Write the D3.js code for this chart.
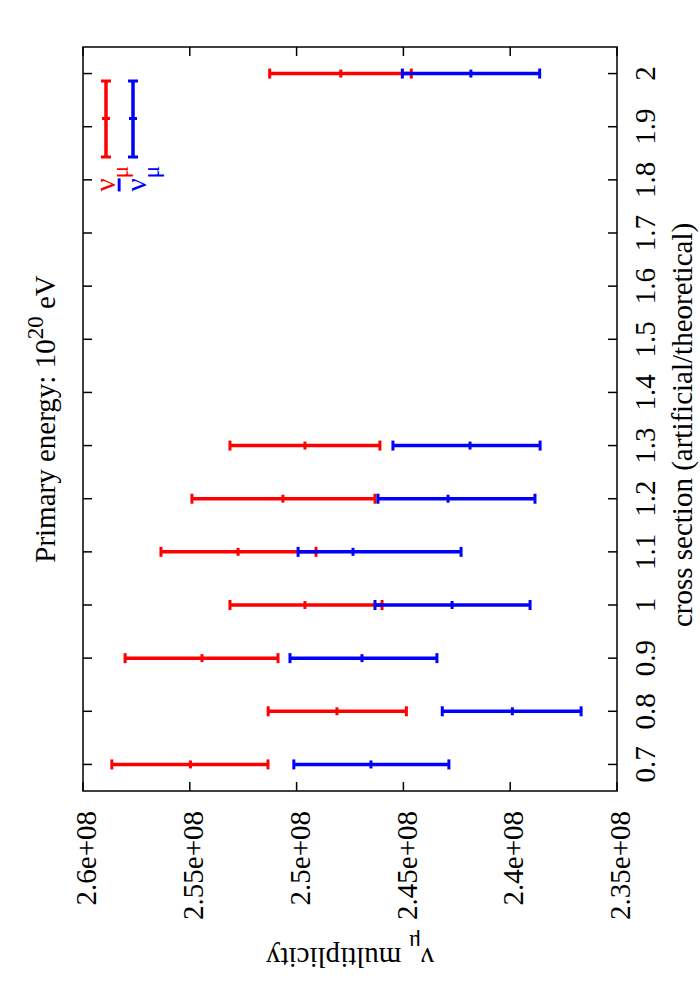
<!DOCTYPE html>
<meta charset="utf-8">
<style>
body { margin: 0; background: #fff; }
text { font-family: "Liberation Serif", "Times New Roman", serif; fill: #000; }
.frame { fill: none; stroke: #000; stroke-width: 1.5px; }
.tick { stroke: #000; stroke-width: 1.5px; }
</style>
<svg width="700" height="1000"></svg>
<script src="https://cdn.jsdelivr.net/npm/d3@7"></script>
<script>

// cross section values (artificial/theoretical)
var crossSection = [0.7, 0.8, 0.9, 1.0, 1.1, 1.2, 1.3, 2.0];

// nu_mu multiplicity: low, value, high
var numuLow   = [2.5865e8, 2.5133e8, 2.5803e8, 2.5312e8, 2.5635e8, 2.5490e8, 2.5312e8, 2.5126e8];
var numuValue = [2.5497e8, 2.4811e8, 2.5443e8, 2.4961e8, 2.5274e8, 2.5064e8, 2.4961e8, 2.4793e8];
var numuHigh  = [2.5134e8, 2.4486e8, 2.5087e8, 2.4600e8, 2.4909e8, 2.4633e8, 2.4610e8, 2.4463e8];

// anti nu_mu multiplicity: low, value, high
var numubarLow   = [2.5013e8, 2.4318e8, 2.5031e8, 2.4633e8, 2.4993e8, 2.4619e8, 2.4549e8, 2.4505e8];
var numubarValue = [2.4652e8, 2.3990e8, 2.4694e8, 2.4272e8, 2.4736e8, 2.4291e8, 2.4188e8, 2.4184e8];
var numubarHigh  = [2.4287e8, 2.3668e8, 2.4343e8, 2.3907e8, 2.4230e8, 2.3884e8, 2.3860e8, 2.3862e8];

var multTicks = [2.6e8, 2.55e8, 2.5e8, 2.45e8, 2.4e8, 2.35e8];
var multLabels = ["2.6e+08", "2.55e+08", "2.5e+08", "2.45e+08", "2.4e+08", "2.35e+08"];
var csTicks = [0.7, 0.8, 0.9, 1, 1.1, 1.2, 1.3, 1.4, 1.5, 1.6, 1.7, 1.8, 1.9, 2];

var svg = d3.select("svg"),
    plotL = 83, plotR = 617, plotT = 47, plotB = 791,
    fs = 29, fsSub = 23;

// whole gnuplot page is turned a quarter turn, so multiplicity runs across
var x = d3.scaleLinear().domain([2.6e8, 2.35e8]).range([plotL, plotR]);
var y = d3.scaleLinear().domain([0.65, 2.05]).range([plotB, plotT]);

var tickLen = 9;

// ticks, mirrored on both sides
var g = svg.append("g");
multTicks.forEach(function(v) {
  g.append("line").attr("class", "tick")
      .attr("x1", x(v)).attr("x2", x(v)).attr("y1", plotB).attr("y2", plotB - tickLen);
  g.append("line").attr("class", "tick")
      .attr("x1", x(v)).attr("x2", x(v)).attr("y1", plotT).attr("y2", plotT + tickLen);
});
csTicks.forEach(function(v) {
  g.append("line").attr("class", "tick")
      .attr("x1", plotL).attr("x2", plotL + tickLen).attr("y1", y(v)).attr("y2", y(v));
  g.append("line").attr("class", "tick")
      .attr("x1", plotR).attr("x2", plotR - tickLen).attr("y1", y(v)).attr("y2", y(v));
});

svg.append("rect").attr("class", "frame")
    .attr("x", plotL).attr("y", plotT)
    .attr("width", plotR - plotL).attr("height", plotB - plotT);

// tick labels
svg.append("g").selectAll("text")
    .data(multTicks)
  .enter().append("text")
    .attr("transform", function(d) { return "translate(" + (x(d) + 3) + "," + (plotB + 20) + ") rotate(-90)"; })
    .attr("text-anchor", "end")
    .attr("dy", "0.35em")
    .style("font-size", fs + "px")
    .text(function(d, i) { return multLabels[i]; });

svg.append("g").selectAll("text")
    .data(csTicks)
  .enter().append("text")
    .attr("transform", function(d) { return "translate(645," + y(d) + ") rotate(-90)"; })
    .attr("text-anchor", "middle")
    .attr("dy", "0.35em")
    .style("font-size", fs + "px")
    .text(function(d) { return d; });

// axis labels and title
svg.append("text")
    .attr("transform", "translate(682," + ((plotT + plotB) / 2 + 6) + ") rotate(-90)")
    .attr("text-anchor", "middle")
    .attr("dy", "0.35em")
    .style("font-size", fs + "px")
    .text("cross section (artificial/theoretical)");

var ylab = svg.append("text")
    .attr("transform", "translate(" + (plotL + plotR) / 2 + ",958) rotate(180)")
    .attr("text-anchor", "middle")
    .attr("dy", "0.35em")
    .style("font-size", fs + "px");
ylab.append("tspan").text("ν");
ylab.append("tspan").attr("baseline-shift", "sub").style("font-size", fsSub + "px").text("μ");
ylab.append("tspan").text(" multiplicity");

var title = svg.append("text")
    .attr("transform", "translate(45," + (plotT + plotB) / 2 + ") rotate(-90)")
    .attr("text-anchor", "middle")
    .attr("dy", "0.35em")
    .style("font-size", fs + "px");
title.append("tspan").text("Primary energy: 10");
title.append("tspan").attr("baseline-shift", "super").style("font-size", fsSub + "px").text("20");
title.append("tspan").text(" eV");

// error bars
var series = [
  {low: numuLow, value: numuValue, high: numuHigh, color: "#ff0000"},
  {low: numubarLow, value: numubarValue, high: numubarHigh, color: "#0000ff"}
];
var cap = 5;

series.forEach(function(s) {
  var rows = crossSection.map(function(c, i) {
    return {c: c, lo: s.low[i], v: s.value[i], hi: s.high[i]};
  });
  var sg = svg.append("g").attr("stroke", s.color);
  sg.selectAll(".bar").data(rows).enter().append("line")
      .attr("x1", function(d) { return x(d.lo); })
      .attr("x2", function(d) { return x(d.hi); })
      .attr("y1", function(d) { return y(d.c); })
      .attr("y2", function(d) { return y(d.c); })
      .attr("stroke-width", 3.5);
  ["lo", "v", "hi"].forEach(function(k) {
    var h = k == "v" ? cap - 1 : cap;
    sg.selectAll(".cap-" + k).data(rows).enter().append("line")
        .attr("x1", function(d) { return x(d[k]); })
        .attr("x2", function(d) { return x(d[k]); })
        .attr("y1", function(d) { return y(d.c) - h; })
        .attr("y2", function(d) { return y(d.c) + h; })
        .attr("stroke-width", 3);
  });
});

// key, turned with the page
var key = [
  {color: "#ff0000", x: 106, bar: false},
  {color: "#0000ff", x: 133, bar: true}
];
var keyTop = 81, keyBot = 157, keyMid = 118.5;
key.forEach(function(k) {
  var kg = svg.append("g").attr("stroke", k.color);
  kg.append("line").attr("x1", k.x).attr("x2", k.x).attr("y1", keyTop).attr("y2", keyBot).attr("stroke-width", 3.5);
  [keyTop, keyMid, keyBot].forEach(function(yy, i) {
    kg.append("line").attr("x1", k.x - (i == 1 ? cap - 1 : cap)).attr("x2", k.x + (i == 1 ? cap - 1 : cap))
        .attr("y1", yy).attr("y2", yy).attr("stroke-width", 3);
  });
  var t = svg.append("text")
      .attr("transform", "translate(" + (k.x + (k.bar ? 4 : 0)) + ",166) rotate(-90)")
      .attr("text-anchor", "end")
      .attr("dy", "0.3em")
      .style("font-size", fs + "px")
      .style("fill", k.color);
  var nu = t.append("tspan").text("ν");
  if (k.bar) nu.style("text-decoration", "overline");
  t.append("tspan").attr("baseline-shift", "sub").style("font-size", fsSub + "px").text("μ");
});

</script>
